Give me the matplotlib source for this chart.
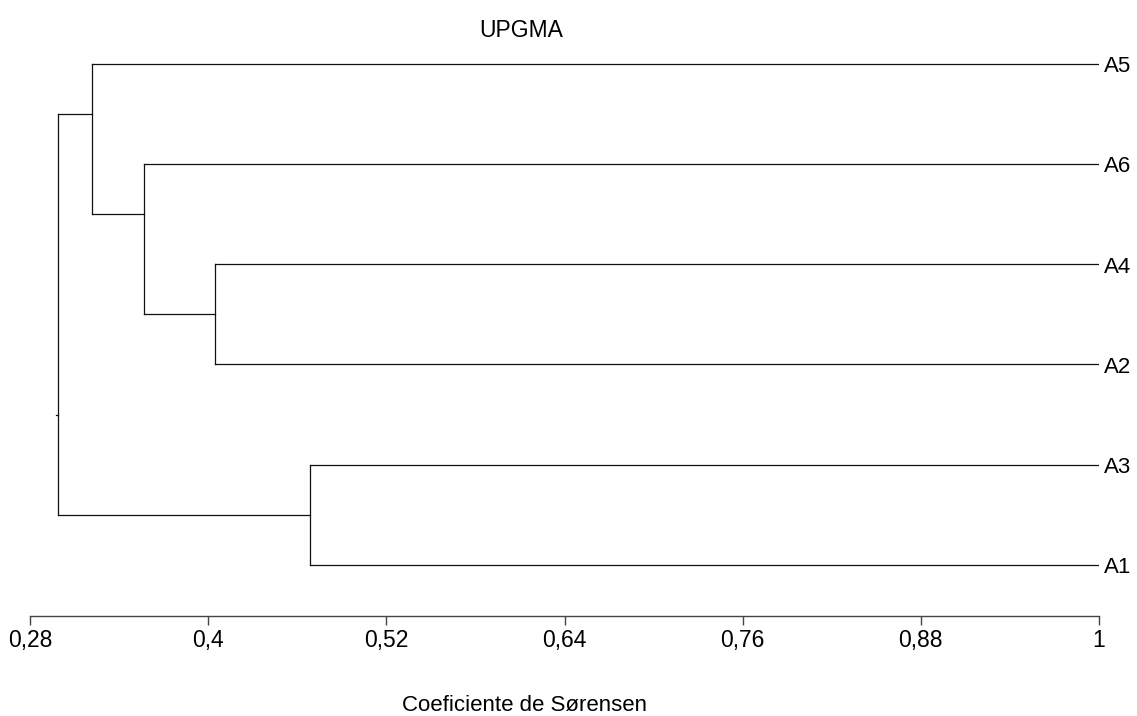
import matplotlib
matplotlib.use("Agg")
import matplotlib.pyplot as plt

plt.rcParams['font.family'] = ['Liberation Sans', 'DejaVu Sans']

# leaves from top to bottom
labels = ["A5", "A6", "A4", "A2", "A3", "A1"]
# merges: node ids 0-5 are leaves, then 6, 7, ... in this order
merge_a = [2, 4, 1, 0, 9]
merge_b = [3, 5, 6, 8, 7]
merge_h = [0.4045, 0.4684, 0.3567, 0.3215, 0.2986]

xticks = [0.28, 0.40, 0.52, 0.64, 0.76, 0.88, 1.0]
xticklabels = ["0,28", "0,4", "0,52", "0,64", "0,76", "0,88", "1"]

W, H = 1137, 716
fig = plt.figure(figsize=(W / 100, H / 100), dpi=100)
ax = fig.add_axes([30 / W, (H - 615.7) / H, 1069 / W, 575.7 / H])

n = len(labels)
node_x = {i: 1.0 for i in range(n)}
node_y = {i: float(i) for i in range(n)}
first_leaf = {i: i for i in range(n)}
last_leaf = {i: i for i in range(n)}

lc = "#111111"
lw = 0.9
for k, (a, b, h) in enumerate(zip(merge_a, merge_b, merge_h)):
    nid = n + k
    for c in (a, b):
        ax.plot([node_x[c], h], [node_y[c], node_y[c]], color=lc, lw=lw)
    ax.plot([h, h], [node_y[a], node_y[b]], color=lc, lw=lw)
    node_x[nid] = h
    node_y[nid] = (last_leaf[a] + first_leaf[b]) / 2
    first_leaf[nid] = first_leaf[a]
    last_leaf[nid] = last_leaf[b]

root = n + len(merge_h) - 1
ax.plot([node_x[root], node_x[root] - 0.0012], [node_y[root]] * 2, color=lc, lw=lw)

for i, lab in enumerate(labels):
    ax.annotate(lab, xy=(1.0, i), xytext=(5, -3), textcoords='offset pixels',
                ha='left', va='center', fontsize=16, annotation_clip=False)

ax.set_xlim(0.28, 1.0)
ax.set_ylim(5.506, -0.236)
for s in ['top', 'right', 'left']:
    ax.spines[s].set_visible(False)
ax.spines['bottom'].set_color('#444444')
ax.spines['bottom'].set_linewidth(1.0)
ax.set_yticks([])
ax.set_xticks(xticks)
ax.set_xticklabels(xticklabels, fontsize=16.5)
ax.tick_params(axis='x', direction='out', length=6.5, width=1.0, color='#444444', pad=3)

fig.text(521.5 / W, (H - 36.7) / H, "UPGMA", ha='center', va='baseline', fontsize=16.5)
fig.text(525 / W, (H - 711) / H, "Coeficiente de Sørensen", ha='center', va='baseline', fontsize=16)

fig.savefig("out.png", dpi=100, facecolor='white')
